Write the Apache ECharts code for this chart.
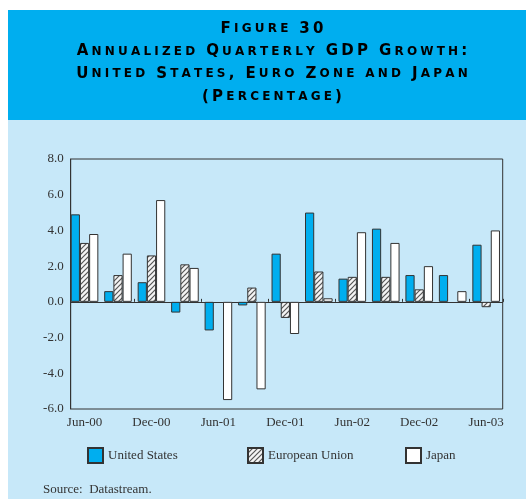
<!DOCTYPE html>
<html>
<head>
<meta charset="utf-8">
<script src="https://cdn.jsdelivr.net/npm/echarts@6/dist/echarts.min.js"></script>
<style>
  html, body { margin: 0; padding: 0; background: #fff; }
  #chart { width: 526px; height: 499px; }
</style>
</head>
<body>
<div id="chart"></div>
<script>
// quarters and values
const categories = ['Jun-00', 'Sep-00', 'Dec-00', 'Mar-01', 'Jun-01', 'Sep-01', 'Dec-01',
  'Mar-02', 'Jun-02', 'Sep-02', 'Dec-02', 'Mar-03', 'Jun-03'];
const usData = [4.9, 0.6, 1.1, -0.6, -1.6, -0.2, 2.7, 5.0, 1.3, 4.1, 1.5, 1.5, 3.2];
const euData = [3.3, 1.5, 2.6, 2.1, null, 0.8, -0.9, 1.7, 1.4, 1.4, 0.7, null, -0.3];
const jpData = [3.8, 2.7, 5.7, 1.9, -5.5, -4.9, -1.8, 0.2, 3.9, 3.3, 2.0, 0.6, 4.0];
const yTicks = [-6, -4, -2, 0, 2, 4, 6, 8];
const titleLines = ['Figure 30', 'Annualized Quarterly GDP Growth:',
  'United States, Euro Zone and Japan', '(Percentage)'];

const serif = '"Liberation Serif", "Times New Roman", serif';

// hatch pattern for the EU bars
function hatch() {
  const c = document.createElement('canvas');
  c.width = c.height = 5;
  const g = c.getContext('2d');
  g.fillStyle = '#f4f4f4';
  g.fillRect(0, 0, 5, 5);
  g.strokeStyle = '#555';
  g.lineWidth = 1.2;
  g.beginPath();
  g.moveTo(-1, 6); g.lineTo(6, -1);
  g.moveTo(-1, 1); g.lineTo(1, -1);
  g.moveTo(4, 6); g.lineTo(6, 4);
  g.stroke();
  return c;
}

// fake small caps: each char its own token, padding = letter spacing
function smallCaps(str) {
  let out = '';
  for (const ch of str) {
    if (ch === ' ') { out += '{sp| }'; continue; }
    if (ch !== ch.toUpperCase()) out += '{s|' + ch.toUpperCase() + '}';
    else out += '{b|' + ch + '}';
  }
  return out;
}
const capsRich = {
  b: { fontFamily: '"DejaVu Sans"', fontWeight: 'bold', fontSize: 15, color: '#fff', padding: [0, 1.6] },
  s: { fontFamily: '"DejaVu Sans"', fontWeight: 'bold', fontSize: 12, color: '#fff', padding: [0, 1.6] },
  sp: { fontFamily: '"DejaVu Sans"', fontSize: 12, color: '#fff', padding: [0, 2] }
};

var myChart = echarts.init(document.getElementById('chart'));

const titleGraphics = titleLines.map((t, i) => ({
  type: 'text',
  x: 272,
  y: 29 + i * 22.6,
  z: 10,
  style: {
    text: smallCaps(t),
    rich: capsRich,
    align: 'center',
    verticalAlign: 'middle'
  }
}));

const legendBase = {
  top: 447,
  padding: 0,
  itemWidth: 15,
  itemHeight: 15,
  itemGap: 6,
  icon: 'rect',
  textStyle: { fontFamily: serif, fontSize: 13, color: '#333' }
};

const yRange = { type: 'value', min: yTicks[0], max: yTicks[yTicks.length - 1], interval: 2 };

myChart.setOption({
  animation: false,
  backgroundColor: '#fff',
  graphic: [
    { type: 'rect', shape: { x: 8, y: 10, width: 518, height: 110 }, style: { fill: '#00aeef' }, z: -10 },
    { type: 'rect', shape: { x: 8, y: 120, width: 518, height: 379 }, style: { fill: '#c7e8f9' }, z: -10 },
    ...titleGraphics,
    {
      type: 'text', x: 43, y: 490,
      style: { text: 'Source:  Datastream.', font: '13px ' + serif, fill: '#333', verticalAlign: 'middle' }
    }
  ],
  grid: [
    // frame + y labels
    { left: 70.7, right: 23.3, top: 159, bottom: 90, show: true, borderColor: '#333', borderWidth: 1, backgroundColor: 'transparent' },
    // bars: category band starts a little left of the frame
    { left: 67.8, right: 23.1, top: 159, bottom: 90 }
  ],
  legend: [
    { ...legendBase, left: 87, data: ['United States'] },
    { ...legendBase, left: 247, data: ['European Union'] },
    { ...legendBase, left: 405, data: ['Japan'] }
  ],
  xAxis: [
    {
      // zero line inside the frame
      gridIndex: 0,
      type: 'category',
      data: categories,
      axisLine: { show: true, onZero: true, lineStyle: { color: '#333', width: 1 } },
      axisTick: { show: false },
      axisLabel: { show: false }
    },
    {
      // bottom labels
      gridIndex: 1,
      type: 'category',
      data: categories,
      position: 'bottom',
      axisLine: { show: false, onZero: false },
      axisTick: { show: false },
      axisLabel: { interval: 1, margin: 7, fontFamily: serif, fontSize: 13, color: '#333' }
    },
    {
      // small ticks on the zero line
      gridIndex: 1,
      type: 'category',
      data: categories,
      position: 'bottom',
      axisLine: { show: false, onZero: true },
      axisTick: {
        show: true, inside: true, length: 3, lineStyle: { color: '#333' },
        interval: (i) => i > 0 && i < categories.length && i % 2 === 0
      },
      axisLabel: { show: false }
    }
  ],
  yAxis: [
    {
      ...yRange,
      gridIndex: 0,
      axisLine: { show: true, lineStyle: { color: '#333' } },
      axisTick: { show: false },
      splitLine: { show: false },
      axisLabel: {
        margin: 7, fontFamily: serif, fontSize: 13, color: '#333',
        formatter: (v) => v.toFixed(1)
      }
    },
    {
      ...yRange,
      gridIndex: 1,
      show: false,
      splitLine: { show: false }
    }
  ],
  series: [
    {
      name: 'United States', type: 'bar', data: usData,
      xAxisIndex: 1, yAxisIndex: 1,
      barGap: '0%', barCategoryGap: '17.5%',
      itemStyle: { color: '#00aeef', borderColor: '#333', borderWidth: 1 }
    },
    {
      name: 'European Union', type: 'bar', data: euData,
      xAxisIndex: 1, yAxisIndex: 1,
      itemStyle: { color: { image: hatch(), repeat: 'repeat' }, borderColor: '#333', borderWidth: 1 }
    },
    {
      name: 'Japan', type: 'bar', data: jpData,
      xAxisIndex: 1, yAxisIndex: 1,
      itemStyle: { color: '#fff', borderColor: '#333', borderWidth: 1 }
    }
  ]
});
</script>
</body>
</html>
